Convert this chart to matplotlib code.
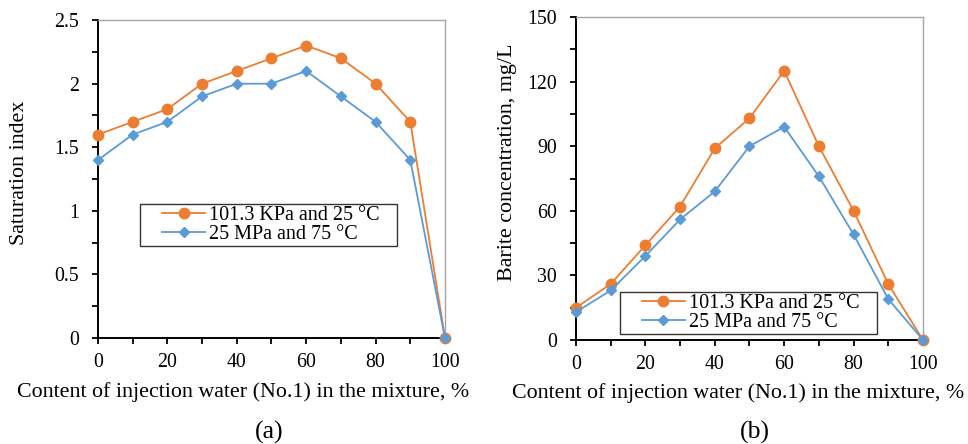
import matplotlib
matplotlib.use("Agg")
import matplotlib.pyplot as plt
from matplotlib.path import Path
from matplotlib.ticker import MultipleLocator

plt.rcParams["font.family"] = ["Liberation Serif", "DejaVu Serif"]
plt.rcParams["font.size"] = 14

content = [0, 10, 20, 30, 40, 50, 60, 70, 80, 90, 100]

si_low = [1.6, 1.7, 1.8, 2.0, 2.1, 2.2, 2.3, 2.2, 2.0, 1.7, 0.0]
si_high = [1.4, 1.6, 1.7, 1.9, 2.0, 2.0, 2.1, 1.9, 1.7, 1.4, 0.0]

barite_low = [15, 26, 44, 62, 89, 103, 125, 90, 60, 26, 0]
barite_high = [13, 23, 39, 56, 69, 90, 99, 76, 49, 19, 0]

label_low = "101.3 KPa and 25 °C"
label_high = "25 MPa and 75 °C"
xlabel = "Content of injection water (No.1) in the mixture, %"

ORANGE = "#ED7D31"
BLUE = "#5B9BD5"


def wide_box(x0, y0, width, height, mutation_size):
    # legend frame with extra room left and right only
    pl = 1.0 * mutation_size
    pr = 0.75 * mutation_size
    xa, xb = x0 - pl, x0 + width + pr
    ya, yb = y0, y0 + height
    return Path([(xa, ya), (xb, ya), (xb, yb), (xa, yb), (xa, ya)],
                [Path.MOVETO, Path.LINETO, Path.LINETO, Path.LINETO, Path.CLOSEPOLY])


def style_axes(ax):
    for side in ("left", "bottom"):
        ax.spines[side].set_color("black")
        ax.spines[side].set_linewidth(1.4)
    for side in ("top", "right"):
        ax.spines[side].set_color("#a6a6a6")
        ax.spines[side].set_linewidth(1.0)
    ax.tick_params(which="both", direction="out", length=4.5, width=1.3,
                   top=False, right=False)
    ax.tick_params(axis="x", labelsize=14.3, pad=6.5)
    ax.tick_params(axis="y", labelsize=14.3, pad=9)


def draw(ax, low, high, leg_anchor):
    ax.plot(content, low, color=ORANGE, marker="o", markersize=7.5,
            linewidth=1.3, label=label_low, clip_on=False, zorder=3)
    ax.plot(content, high, color=BLUE, marker="D", markersize=5.5,
            linewidth=1.3, label=label_high, clip_on=False, zorder=4)
    ax.set_xlim(0, 100)
    ax.xaxis.set_major_locator(MultipleLocator(20))
    ax.xaxis.set_minor_locator(MultipleLocator(10))
    ax.set_xlabel(xlabel, fontsize=15.8)
    style_axes(ax)
    leg = ax.legend(loc="upper left", bbox_to_anchor=leg_anchor,
                    frameon=True, fancybox=False, edgecolor="black",
                    fontsize=14.5, borderpad=0.1, labelspacing=0.0,
                    handlelength=2.15, handletextpad=0.2, borderaxespad=0)
    leg.get_frame().set_linewidth(1.0)
    leg.get_frame().set_boxstyle(wide_box)


fig = plt.figure(figsize=(9.68, 4.44), dpi=100)
ax1 = fig.add_axes([0.1012, 0.2387, 0.3585, 0.716])
ax2 = fig.add_axes([0.595, 0.2342, 0.3585, 0.7275])

draw(ax1, si_low, si_high, (0.179, 0.421))
ax1.set_ylim(0, 2.5)
ax1.yaxis.set_major_locator(MultipleLocator(0.5))
ax1.yaxis.set_minor_locator(MultipleLocator(0.25))
ax1.yaxis.set_major_formatter(plt.FuncFormatter(lambda v, p: f"{v:g}"))
ax1.set_ylabel("Saturation index", fontsize=15.8)
ax1.yaxis.set_label_coords(-0.2, 0.519)
ax1.xaxis.set_label_coords(0.418, -0.14)

draw(ax2, barite_low, barite_high, (0.184, 0.149))
ax2.set_ylim(0, 150)
ax2.yaxis.set_major_locator(MultipleLocator(30))
ax2.yaxis.set_minor_locator(MultipleLocator(15))
ax2.set_ylabel("Barite concentration, mg/L", fontsize=15.8)
ax2.yaxis.set_label_coords(-0.17, 0.551)
ax2.xaxis.set_label_coords(0.467, -0.133)

fig.text(269 / 968, 1 - 432 / 444, "(a)", ha="center", va="center", fontsize=18.5)
fig.text(755 / 968, 1 - 432 / 444, "(b)", ha="center", va="center", fontsize=18.5)

fig.savefig("out.png", dpi=100)
